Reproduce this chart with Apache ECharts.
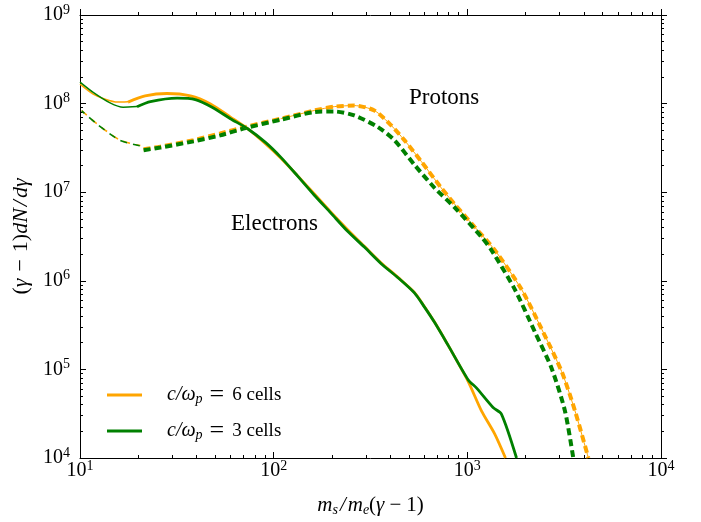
<!DOCTYPE html>
<html>
<head>
<meta charset="utf-8">
<script src="https://cdn.jsdelivr.net/npm/echarts@6/dist/echarts.min.js"></script>
<style>
  html, body { margin: 0; padding: 0; background: #fff; }
  #chart { width: 701px; height: 522px; }
</style>
</head>
<body>
<div id="chart"></div>
<script>
// Spectra (γ−1)dN/dγ versus energy for two plasma-skin-depth resolutions.
// Electrons are solid, protons dashed. Each run has an early (thin) and a late (thick) segment.

// electrons, c/ωp = 6 cells
const elec6Early = [[10, 1.66e8], [11.7, 1.28e8], [13.5, 1.12e8], [15.6, 1.04e8], [17.7, 1.05e8]];
const elec6 = [
  [17.7, 1.04e8], [21.7, 1.22e8], [28.1, 1.30e8], [37.2, 1.22e8], [47.2, 9.9e7],
  [59.8, 7.05e7], [73.1, 5.24e7], [91, 3.5e7], [108.7, 2.43e7], [132.7, 1.54e7],
  [161.8, 9.6e6], [197, 6.0e6], [241, 3.78e6], [294, 2.45e6], [358, 1.6e6],
  [437, 1.1e6], [533, 7.4e5], [601, 5.1e5], [677, 3.42e5], [795, 1.88e5],
  [1009, 7.33e4], [1183, 3.4e4], [1384, 1.87e4], [1574, 1.0e4]
];
// electrons, c/ωp = 3 cells
const elec3Early = [[10, 1.75e8], [11.7, 1.34e8], [14.3, 1.02e8], [16.7, 9.1e7], [19.7, 9.25e7]];
const elec3 = [
  [19.7, 9.2e7], [23.1, 1.05e8], [31.7, 1.15e8], [39.4, 1.11e8], [48.1, 9.1e7],
  [59.8, 6.75e7], [73.1, 5.24e7], [91, 3.63e7], [108.7, 2.49e7], [132.7, 1.53e7],
  [161.8, 9.3e6], [197, 5.85e6], [241, 3.62e6], [294, 2.4e6], [358, 1.57e6],
  [437, 1.09e6], [533, 7.3e5], [601, 5.05e5], [677, 3.4e5], [795, 1.88e5],
  [1009, 7.66e4], [1114, 6.18e4], [1358, 3.71e4], [1500, 3.13e4], [1795, 1.0e4]
];
// protons, c/ωp = 6 cells
const prot6Early = [[10.2, 8.36e7], [12.2, 5.94e7], [16.1, 3.87e7], [20.5, 3.36e7]];
const prot6 = [
  [21.3, 3.05e7], [26, 3.27e7], [38.6, 3.87e7], [53, 4.6e7], [71.6, 5.46e7],
  [108.7, 6.75e7], [138, 7.67e7], [162, 8.36e7], [206, 9.25e7], [261, 9.5e7],
  [331, 8.36e7], [404, 5.69e7], [473, 3.87e7], [578, 2.23e7], [733, 1.12e7],
  [859, 7.35e6], [1091, 4.05e6], [1384, 2.23e6], [1905, 8.0e5], [2415, 2.88e5],
  [3069, 9.46e4], [3597, 3.4e4], [4217, 1.0e4]
];
// protons, c/ωp = 3 cells
const prot3Early = [[10.2, 8.3e7], [12.2, 5.9e7], [16.1, 3.84e7], [20.5, 3.33e7]];
const prot3 = [
  [21.3, 2.98e7], [26, 3.19e7], [38.6, 3.75e7], [53, 4.38e7], [71.6, 5.3e7],
  [108.7, 6.58e7], [162, 8.02e7], [206, 8.15e7], [261, 7.35e7], [344, 5.46e7],
  [420, 3.87e7], [533, 2.04e7], [677, 1.12e7], [859, 6.75e6], [1183, 3.13e6],
  [1330, 2.23e6], [1758, 8.0e5], [2234, 2.64e5], [2723, 1.03e5], [3192, 3.4e4],
  [3524, 1.0e4]
];

const xDecades = [1, 2, 3, 4];          // log10 of 10 … 10^4
const yDecades = [4, 5, 6, 7, 8, 9];    // log10 of 10^4 … 10^9
const seriesNames = ['c/ωp = 6 cells', 'c/ωp = 3 cells'];
const legendLabels = {
  'c/ωp = 6 cells': '{i|c/ω}{sub|p}{eq|=}{n|6 cells}',
  'c/ωp = 3 cells': '{i|c/ω}{sub|p}{eq|=}{n|3 cells}'
};

const ORANGE = '#ffa500';
const GREEN = '#008000';
const FONT = '"Liberation Serif", "DejaVu Serif", serif';

// minor tick positions (log10 of 2…9 × each decade)
function minorLogTicks(decades) {
  const out = [];
  for (let i = 0; i < decades.length - 1; i++) {
    for (let k = 2; k <= 9; k++) out.push(decades[i] + Math.log10(k));
  }
  return out;
}
const xMinor = minorLogTicks(xDecades);
const yMinor = minorLogTicks(yDecades);

function mathStyles(size, subSize, subDrop, opPad) {
  return {
    n: { fontFamily: FONT, fontSize: size, lineHeight: size + 2, color: '#000' },
    i: { fontFamily: FONT, fontSize: size, lineHeight: size + 2, fontStyle: 'italic', color: '#000' },
    op: { fontFamily: FONT, fontSize: size, lineHeight: size + 2, color: '#000', padding: [0, opPad, 0, opPad] },
    sl: { fontFamily: FONT, fontSize: size, lineHeight: size + 2, fontStyle: 'italic', color: '#000', padding: [0, 2, 0, 2] },
    sub: { fontFamily: FONT, fontSize: subSize, lineHeight: subSize, fontStyle: 'italic', color: '#000', padding: [subDrop, 0, 0, 0] }
  };
}
const xNameRich = mathStyles(21, 14, 9, 5);
const yNameRich = mathStyles(22, 15, 9, 7);
const legendRich = mathStyles(20, 14, 9, 5);
legendRich.i = Object.assign({}, legendRich.i, { padding: [0, 0, 0, 20] });
legendRich.eq = { fontFamily: FONT, fontSize: 26, lineHeight: 22, color: '#000', padding: [0, 8, 0, 7] };
legendRich.n = Object.assign({}, legendRich.n, { fontSize: 19 });

const tickRich = {
  b: { fontFamily: FONT, fontSize: 20, lineHeight: 22, color: '#000' },
  s: { fontFamily: FONT, fontSize: 14, lineHeight: 14, color: '#000', padding: [0, 0, 10, 0] }
};
const powLabel = v => '{b|10}{s|' + Math.round(Math.log10(v)) + '}';

const black = { color: '#000', width: 1 };

// overlay axis carrying only ticks, in log10 units
function tickAxis(position, range, values, len, inside, showLine) {
  return {
    type: 'value', position, min: range[0], max: range[1],
    axisLine: { show: showLine, onZero: false, lineStyle: black },
    axisTick: { show: true, inside, length: len, customValues: values, lineStyle: black },
    axisLabel: { show: false },
    splitLine: { show: false }
  };
}

const xRange = [xDecades[0], xDecades[xDecades.length - 1]];
const yRange = [yDecades[0], yDecades[yDecades.length - 1]];

function line(name, data, color, width, dash, z, dashOffset) {
  return {
    type: 'line', name, data, xAxisIndex: 0, yAxisIndex: 0,
    showSymbol: false, symbol: 'none', smooth: 0.25, z,
    lineStyle: { color, width, type: dash || 'solid', dashOffset: dashOffset || 0, cap: 'butt' },
    itemStyle: { color },
    emphasis: { disabled: true }, silent: true, animation: false
  };
}

const chart = echarts.init(document.getElementById('chart'), null, { renderer: 'canvas' });
chart.setOption({
  animation: false,
  backgroundColor: '#fff',
  grid: { left: 80, right: 40, top: 15, bottom: 58, containLabel: false },
  xAxis: [
    {
      type: 'log', logBase: 10, min: Math.pow(10, xRange[0]), max: Math.pow(10, xRange[1]),
      position: 'bottom',
      axisLine: { show: true, onZero: false, lineStyle: black },
      axisTick: { show: true, inside: true, length: 6, lineStyle: black },
      axisLabel: { formatter: powLabel, margin: 2, rich: tickRich },
      splitLine: { show: false }, minorTick: { show: false },
      name: '{i|m}{sub|s}{sl|/}{i|m}{sub|e}{n|(}{i|γ}{op|−}{n|1)}',
      nameLocation: 'middle', nameGap: 36,
      nameTextStyle: { rich: xNameRich }
    },
    tickAxis('bottom', xRange, xMinor, 3, true, false),
    tickAxis('top', xRange, xDecades, 6, false, true),
    tickAxis('top', xRange, xMinor, 3, false, false)
  ],
  yAxis: [
    {
      type: 'log', logBase: 10, min: Math.pow(10, yRange[0]), max: Math.pow(10, yRange[1]),
      position: 'left',
      axisLine: { show: true, onZero: false, lineStyle: black },
      axisTick: { show: true, inside: true, length: 6, lineStyle: black },
      axisLabel: { formatter: powLabel, margin: 10, rich: tickRich },
      splitLine: { show: false }, minorTick: { show: false },
      name: '{n|(}{i|γ}{op|−}{n|1)}{i|dN}{sl|/}{i|dγ}',
      nameLocation: 'middle', nameGap: 46, nameRotate: 90,
      nameTextStyle: { rich: yNameRich }
    },
    tickAxis('left', yRange, yMinor, 3, true, false),
    tickAxis('right', yRange, yDecades, 6, false, true),
    tickAxis('right', yRange, yMinor, 3, false, false)
  ],
  legend: {
    left: 102, top: 377, orient: 'vertical',
    itemWidth: 35, itemHeight: 3, itemGap: 10, icon: 'rect',
    data: seriesNames,
    formatter: name => legendLabels[name],
    textStyle: { rich: legendRich },
    selectedMode: false
  },
  graphic: [
    { type: 'text', left: 409, top: 86, style: { text: 'Protons', font: '23px ' + FONT, fill: '#000' } },
    { type: 'text', left: 231, top: 212, style: { text: 'Electrons', font: '23px ' + FONT, fill: '#000' } }
  ],
  series: [
    line('protTrace6', prot6.slice(5), ORANGE, 1, 'solid', 1),
    line('protEarly6', prot6Early, ORANGE, 1.6, [7, 6], 2),
    line('protEarly3', prot3Early, GREEN, 1.6, [7, 6], 3, 3),
    line('protLate6', prot6, ORANGE, 4, [7, 4], 4),
    line('protLate3', prot3, GREEN, 4, [7, 4], 5),
    line('elecEarly6', elec6Early, ORANGE, 1.5, 'solid', 6),
    line('elecEarly3', elec3Early, GREEN, 1.5, 'solid', 7),
    line(seriesNames[0], elec6, ORANGE, 2.8, 'solid', 8),
    line(seriesNames[1], elec3, GREEN, 2.8, 'solid', 9)
  ]
});
</script>
</body>
</html>
